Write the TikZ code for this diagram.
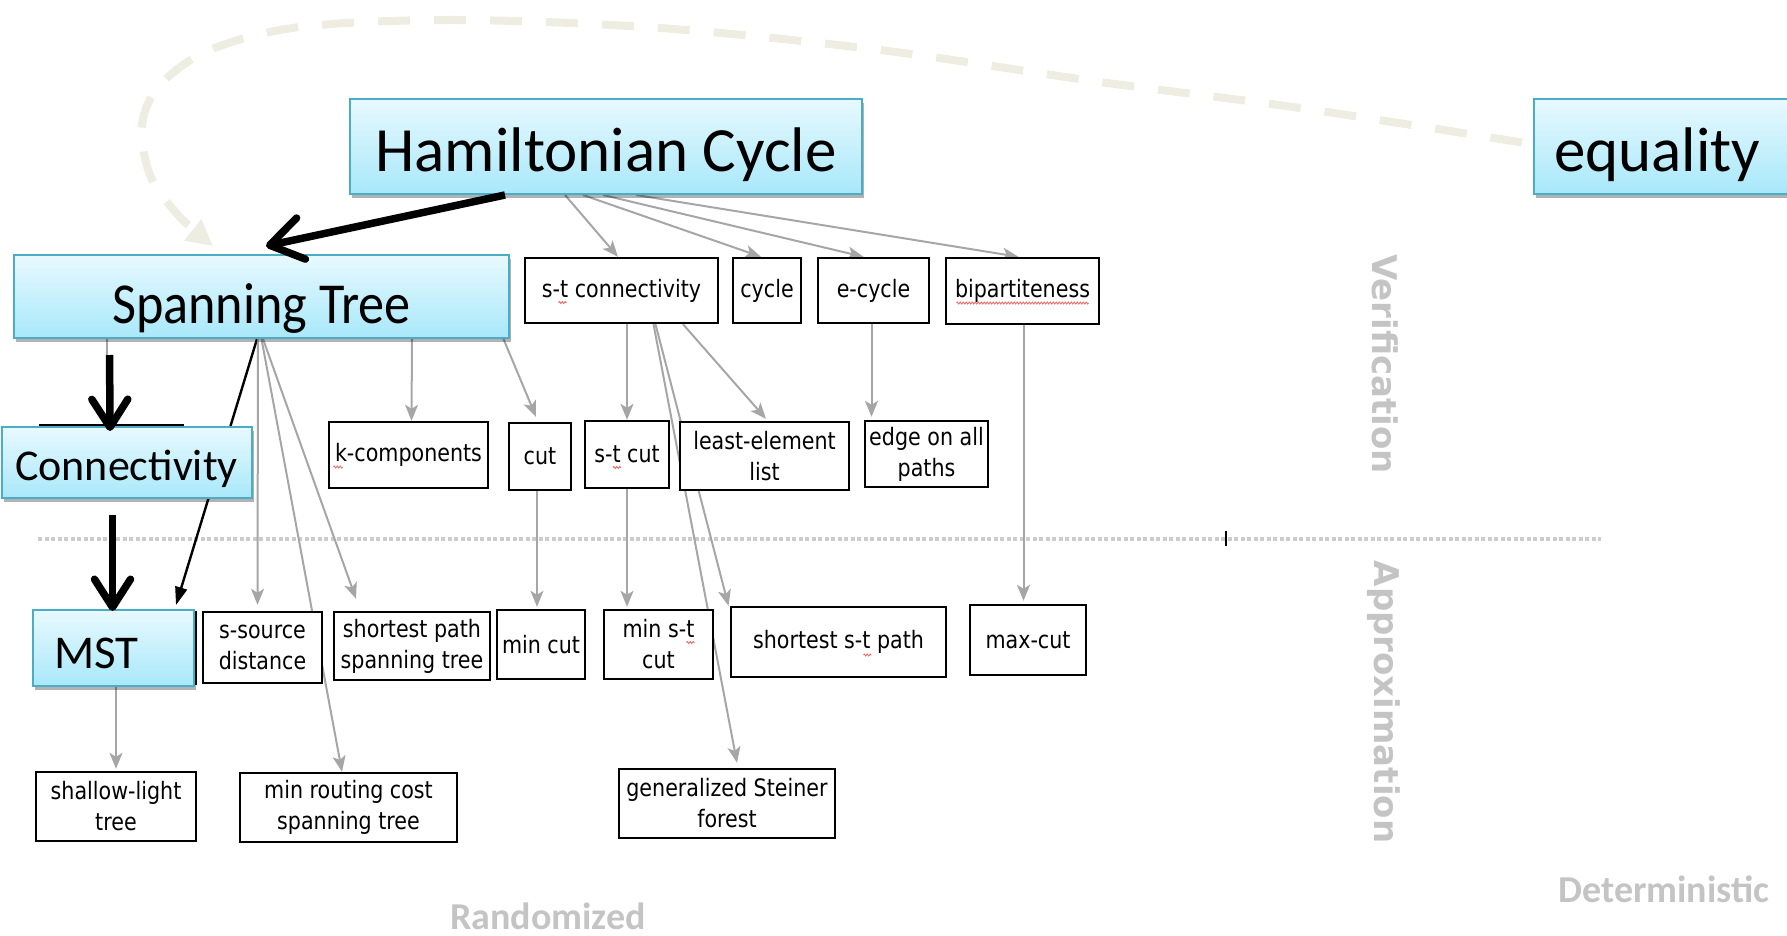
\documentclass[tikz,border=0pt]{standalone}
\usepackage{fontspec}
\setmainfont{Carlito}
\newfontfamily\boxfont[FakeStretch=0.86]{DejaVu Sans}
\newfontfamily\narrowcarlito[FakeStretch=0.9]{Carlito}
\newfontfamily\axisfont{DejaVu Sans}
\usetikzlibrary{arrows.meta,shadows,decorations.pathmorphing}
\pgfdeclarelayer{background}
\pgfsetlayers{background,main}

\definecolor{boxrim}{RGB}{75,172,198}
\definecolor{boxtop}{RGB}{232,249,254}
\definecolor{boxbottom}{RGB}{168,232,250}
\definecolor{linkgray}{RGB}{166,166,166}
\definecolor{rulegray}{RGB}{204,204,204}
\definecolor{labelgray}{RGB}{196,196,196}
\definecolor{backdash}{RGB}{237,237,226}
\definecolor{spellred}{RGB}{235,110,110}

\tikzset{
  bluebox/.style={draw=boxrim, line width=2pt, top color=boxtop, bottom color=boxbottom,
    inner sep=0pt, text depth=0pt,
    drop shadow={shadow xshift=2pt, shadow yshift=-4pt, opacity=0.3, fill=black}},
  plainbox/.style={draw=black, line width=2.4pt, fill=white, inner sep=0pt, align=center,
    font=\boxfont\fontsize{24}{31}\selectfont},
  graylink/.style={draw=linkgray, line width=2pt, -{Stealth[length=16pt,width=13pt,inset=4pt]}},
  heavylink/.style={draw=black, line width=7.5pt, -{Straight Barb[length=28pt,width=36pt,round]}},
  widelink/.style={draw=black, line width=7.5pt, -{Straight Barb[length=32pt,width=42pt,round]}},
  thinlink/.style={draw=black, line width=2.4pt, -{Triangle[length=18pt,width=12pt]}},
  backlink/.style={draw=backdash, line width=8pt, dash pattern=on 32pt off 24pt,
    -{Triangle[length=26pt,width=26pt]}},
  dotrule/.style={draw=rulegray, line width=4.5pt, dash pattern=on 4pt off 2.5pt},
  spellmark/.style={draw=spellred, line width=0.9pt,
    decorate, decoration={zigzag, segment length=3pt, amplitude=1pt}},
  axislabel/.style={text=labelgray, inner sep=0pt, font=\axisfont\bfseries\fontsize{34}{40}\selectfont},
  cornerlabel/.style={text=labelgray, inner sep=0pt, font=\bfseries\fontsize{38}{42}\selectfont},
}

\begin{document}
\begin{tikzpicture}[x=1pt,y=-1pt]
\useasboundingbox (0,0) rectangle (1787,936);
\begin{scope}
\clip (0,0) rectangle (1787,936);

% section divider
\coordinate (divL) at (38,539);
\coordinate (divR) at (1601,539);
\coordinate (tickT) at (1226,531);
\coordinate (tickB) at (1226,546);

% main problems
\node[bluebox, minimum width=512pt, minimum height=95pt, text height=51pt,
  font=\fontsize{63}{70}\selectfont] (ham) at (606,146.5) {Hamiltonian Cycle};
\node[bluebox, minimum width=266pt, minimum height=95pt, text height=50pt, inner xsep=20pt,
  text width=226pt, align=left, font=\fontsize{63}{70}\selectfont] (eq) at (1667,146.5) {equality};
\node[bluebox, minimum width=495pt, minimum height=83pt, text height=54pt,
  font=\narrowcarlito\fontsize{58}{64}\selectfont] (st) at (261.5,296.5) {Spanning Tree};

% boxes partly hidden behind Connectivity and MST
\node[plainbox, minimum width=143pt, minimum height=70pt] (connback) at (111.5,460) {};
\node[plainbox, minimum width=156pt, minimum height=72pt] (mstback) at (118,648) {};

\node[bluebox, minimum width=250pt, minimum height=71pt, text height=35pt,
  font=\fontsize{44}{50}\selectfont] (conn) at (126.5,462.5) {Connectivity};
\node[bluebox, minimum width=161pt, minimum height=76pt, text height=40pt, inner xsep=21pt,
  text width=119pt, align=left, font=\fontsize{47}{52}\selectfont] (mst) at (113.5,648) {MST};

% verification row
\node[plainbox, minimum width=193pt, minimum height=65pt] (stc) at (621.5,290.5) {s-t connectivity};
\node[plainbox, minimum width=68pt, minimum height=65pt] (cyc) at (767,290.5) {cycle};
\node[plainbox, minimum width=111pt, minimum height=65pt] (ecyc) at (873.5,290.5) {e-cycle};
\node[plainbox, minimum width=153pt, minimum height=66pt] (bip) at (1022.5,291) {bipartiteness};

\node[plainbox, minimum width=159pt, minimum height=66pt] (kc) at (408.5,455) {k-components};
\node[plainbox, minimum width=62pt, minimum height=67pt] (cut) at (540,456.5) {cut};
\node[plainbox, minimum width=84pt, minimum height=67pt] (stcut) at (627,454.5) {s-t cut};
\node[plainbox, minimum width=169pt, minimum height=68pt] (lel) at (764.5,456) {least-element\\list};
\node[plainbox, minimum width=123pt, minimum height=66pt] (eoap) at (926.5,454) {edge on all\\paths};

% approximation rows
\node[plainbox, minimum width=119pt, minimum height=71pt] (ssd) at (262.5,647.5) {s-source\\distance};
\node[plainbox, minimum width=156pt, minimum height=68pt] (spst) at (412,646) {shortest path\\spanning tree};
\node[plainbox, minimum width=88pt, minimum height=69pt] (mincut) at (541,644.5) {min cut};
\node[plainbox, minimum width=109pt, minimum height=69pt] (minst) at (658.5,644.5) {min s-t\\cut};
\node[plainbox, minimum width=215pt, minimum height=70pt] (ssp) at (838.5,642) {shortest s-t path};
\node[plainbox, minimum width=116pt, minimum height=70pt] (maxcut) at (1028,640) {max-cut};

\node[plainbox, minimum width=160pt, minimum height=69pt] (slt) at (116,806.5) {shallow-light\\tree};
\node[plainbox, minimum width=217pt, minimum height=69pt] (mrc) at (348.5,807.5) {min routing cost\\spanning tree};
\node[plainbox, minimum width=216pt, minimum height=69pt] (gsf) at (727,803.5) {generalized Steiner\\forest};

% spelling marks under some words
\draw[spellmark] ([xshift=-66pt,yshift=-12pt]bip.center) -- ([xshift=66pt,yshift=-12pt]bip.center);
\draw[spellmark] ([xshift=-63pt,yshift=-12pt]stc.center) -- ([xshift=-55pt,yshift=-12pt]stc.center);
\draw[spellmark] ([xshift=-14pt,yshift=-13pt]stcut.center) -- ([xshift=-6pt,yshift=-13pt]stcut.center);
\draw[spellmark] ([xshift=28pt,yshift=2pt]minst.center) -- ([xshift=36pt,yshift=2pt]minst.center);
\draw[spellmark] ([xshift=25pt,yshift=-13pt]ssp.center) -- ([xshift=33pt,yshift=-13pt]ssp.center);
\draw[spellmark] ([xshift=-75pt,yshift=-12pt]kc.center) -- ([xshift=-66pt,yshift=-12pt]kc.center);

% axis labels
\node[axislabel, rotate=-90] (verif) at (1385,364) {Verification};
\node[axislabel, rotate=-90] (approx) at (1384,702) {Approximation};
\node[cornerlabel] (det) at (1664,889) {Deterministic};
\node[cornerlabel] (rand) at (548,916) {Randomized};

% reductions drawn underneath the boxes
\begin{pgfonlayer}{background}
\draw[dotrule] (divL) -- (divR);

\draw[graylink] ([xshift=-41pt]ham.south) -- ([xshift=-3.5pt]stc.north);
\draw[graylink] ([xshift=-23pt]ham.south) -- ([xshift=-6pt]cyc.north);
\draw[graylink] ([xshift=-3pt]ham.south) -- ([xshift=-10pt]ecyc.north);
\draw[graylink] ([xshift=30pt]ham.south) -- ([xshift=-4pt]bip.north);

\draw[draw=linkgray, line width=2pt] ([xshift=-155pt]st.south) -- ([xshift=-5pt]connback.north);
\draw[thinlink] ([xshift=-4.5pt]st.south) -- ([xshift=62.5pt,yshift=4pt]mst.north);
\draw[graylink] ([xshift=-3.5pt]st.south) -- ([xshift=-5pt,yshift=6pt]ssd.north);
\draw[graylink] ([xshift=1.5pt]st.south) -- ([xshift=-56pt,yshift=12pt]spst.north);
\draw[graylink] (st.south) -- ([xshift=-6.5pt]mrc.north);
\draw[graylink] ([xshift=150.5pt]st.south) -- ([xshift=3pt]kc.north);
\draw[graylink] ([xshift=242pt]st.south) -- ([xshift=-4pt,yshift=5pt]cut.north);

\draw[graylink] ([xshift=5.5pt]stc.south) -- (stcut.north);
\draw[graylink] ([xshift=61.5pt]stc.south) -- ([xshift=1.5pt,yshift=2pt]lel.north);
\draw[graylink] ([xshift=34pt]stc.south) -- ([xshift=-110pt]ssp.north);
\draw[graylink] ([xshift=32pt]stc.south) -- ([xshift=10pt,yshift=5pt]gsf.north);

\draw[graylink] ([xshift=-3pt]cut.south) -- ([xshift=-4pt,yshift=2pt]mincut.north);
\draw[graylink] (stcut.south) -- ([xshift=-31.5pt,yshift=2pt]minst.north);
\draw[graylink] ([xshift=-2pt]ecyc.south) -- ([xshift=-55pt,yshift=3pt]eoap.north);
\draw[graylink] ([xshift=1pt]bip.south) -- ([xshift=-4.5pt,yshift=3pt]maxcut.north);
\draw[graylink] ([xshift=2.5pt]mst.south) -- ([yshift=2pt]slt.north);
\end{pgfonlayer}

% strong reductions
\draw[widelink] ([xshift=-101pt]ham.south) -- ([xshift=4.5pt,yshift=8pt]st.north);
\draw[heavylink, shorten <=16pt] ([xshift=-152pt]st.south) -- ([xshift=-16.5pt,yshift=-5pt]conn.north);
\draw[heavylink, shorten <=16pt] ([xshift=-14pt]conn.south) -- ([xshift=-1pt,yshift=-2pt]mst.north);

\draw[line width=2.5pt] (tickT) -- (tickB);

% equality feeds back into Spanning Tree
\draw[backlink] plot[smooth, tension=0.55] coordinates {([xshift=-11pt,yshift=4pt]eq.west) (1300,108) (1100,82) (880,50) (660,28) (456,20) (300,27) (210,50) (160,85) (142,125) (150,175) (178,215) ([xshift=-48.5pt,yshift=8pt]st.north)};
\end{scope}
\end{tikzpicture}
\end{document}
